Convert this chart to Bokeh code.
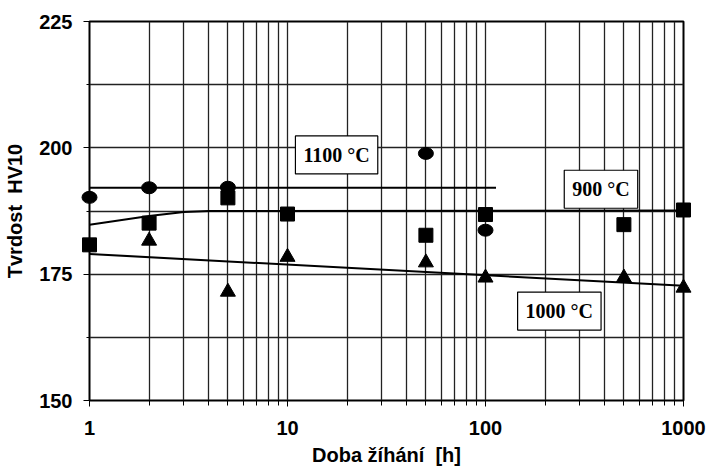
from bokeh.plotting import figure
from bokeh.models import FixedTicker, Label, Range1d
from bokeh.embed import file_html
from bokeh.resources import INLINE

# ---- data ----
t_1100 = [1, 2, 5, 50, 100]
hv_1100 = [190.2, 192.1, 192.2, 198.9, 183.7]

t_900 = [1, 2, 5, 10, 50, 100, 500, 1000]
hv_900 = [180.8, 185.1, 190.1, 186.9, 182.7, 186.8, 184.8, 187.7]

t_1000 = [2, 5, 10, 50, 100, 500, 1000]
hv_1000 = [181.6, 171.5, 178.4, 177.3, 174.3, 174.3, 172.3]

# trend lines
trend_1100_t = [1, 113]
trend_1100_hv = [192.1, 192.1]
trend_900_t = [1, 2, 3, 4, 1000]
trend_900_hv = [184.8, 186.5, 187.3, 187.5, 187.6]
trend_1000_t = [1, 1000]
trend_1000_hv = [179.0, 172.7]

x_major = [1, 10, 100, 1000]
x_major_labels = ["1", "10", "100", "1000"]
x_minor = [m * d for d in (1, 10, 100) for m in range(2, 10)]
y_major = [150, 175, 200, 225]
y_minor = [162.5, 187.5, 212.5]

labels = ["1100 °C", "900 °C", "1000 °C"]

p = figure(width=708, height=472, x_axis_type="log",
           x_range=Range1d(1, 1000), y_range=Range1d(150, 225),
           output_backend="svg", toolbar_location=None,
           min_border_left=89, min_border_right=25,
           min_border_top=21, min_border_bottom=72)
p.background_fill_color = "white"
p.border_fill_color = "white"
p.outline_line_color = "black"
p.outline_line_width = 2

for ax in (p.xaxis[0], p.yaxis[0]):
    ax.major_label_text_font = "Liberation Sans"
    ax.major_label_text_font_style = "bold"
    ax.major_label_text_font_size = "20px"
    ax.major_label_text_color = "black"
    ax.axis_label_text_font = "Liberation Sans"
    ax.axis_label_text_font_style = "bold"
    ax.axis_label_text_font_size = "20px"
    ax.axis_label_text_color = "black"
    ax.axis_line_color = "black"
    ax.major_tick_line_color = "black"
    ax.minor_tick_line_color = "black"
    ax.major_tick_out = 6
    ax.major_tick_in = 0
    ax.minor_tick_out = 5
    ax.minor_tick_in = 0

p.xaxis.ticker = FixedTicker(ticks=x_major, minor_ticks=x_minor)
p.xaxis.major_label_overrides = dict(zip(x_major, x_major_labels))
p.yaxis.ticker = FixedTicker(ticks=y_major, minor_ticks=y_minor)
p.xaxis.axis_label = "Doba žíhání \u00a0[h]"
p.yaxis.axis_label = "Tvrdost \u00a0HV10"
p.xaxis.major_label_standoff = 14
p.xaxis.axis_label_standoff = 6
p.yaxis.major_label_standoff = 11
p.yaxis.axis_label_standoff = 10
p.yaxis.minor_tick_out = 3

for g in (p.xgrid[0], p.ygrid[0]):
    g.grid_line_color = "#222222"
    g.grid_line_width = 1.3
    g.minor_grid_line_color = "#222222"
    g.minor_grid_line_width = 1.3

# trend lines
p.line(trend_1100_t, trend_1100_hv, line_color="black", line_width=2)
p.line(trend_900_t, trend_900_hv, line_color="black", line_width=2)
p.line(trend_1000_t, trend_1000_hv, line_color="black", line_width=2)

# markers (overlay level so edge markers are not clipped by the frame)
p.ellipse(t_1100, hv_1100, width=15, height=12, width_units="screen",
          height_units="screen", fill_color="black", line_color="black",
          level="overlay")
p.scatter(t_900, hv_900, marker="square", size=14,
          fill_color="black", line_color="black", level="overlay")
p.scatter(t_1000, hv_1000, marker="triangle", size=15,
          fill_color="black", line_color="black", level="overlay")

label_x = [17.7, 383, 236]
label_y = [198.6, 191.8, 167.7]
for txt, lx, ly in zip(labels, label_x, label_y):
    p.add_layout(Label(x=lx, y=ly, text=txt,
                       text_font="Liberation Serif", text_font_style="bold",
                       text_font_size="20px", text_color="black",
                       text_align="center", text_baseline="middle",
                       background_fill_color="white",
                       border_line_color="black", border_line_width=1.2,
                       padding=8))

open("out.html", "w").write(file_html(p, INLINE))
